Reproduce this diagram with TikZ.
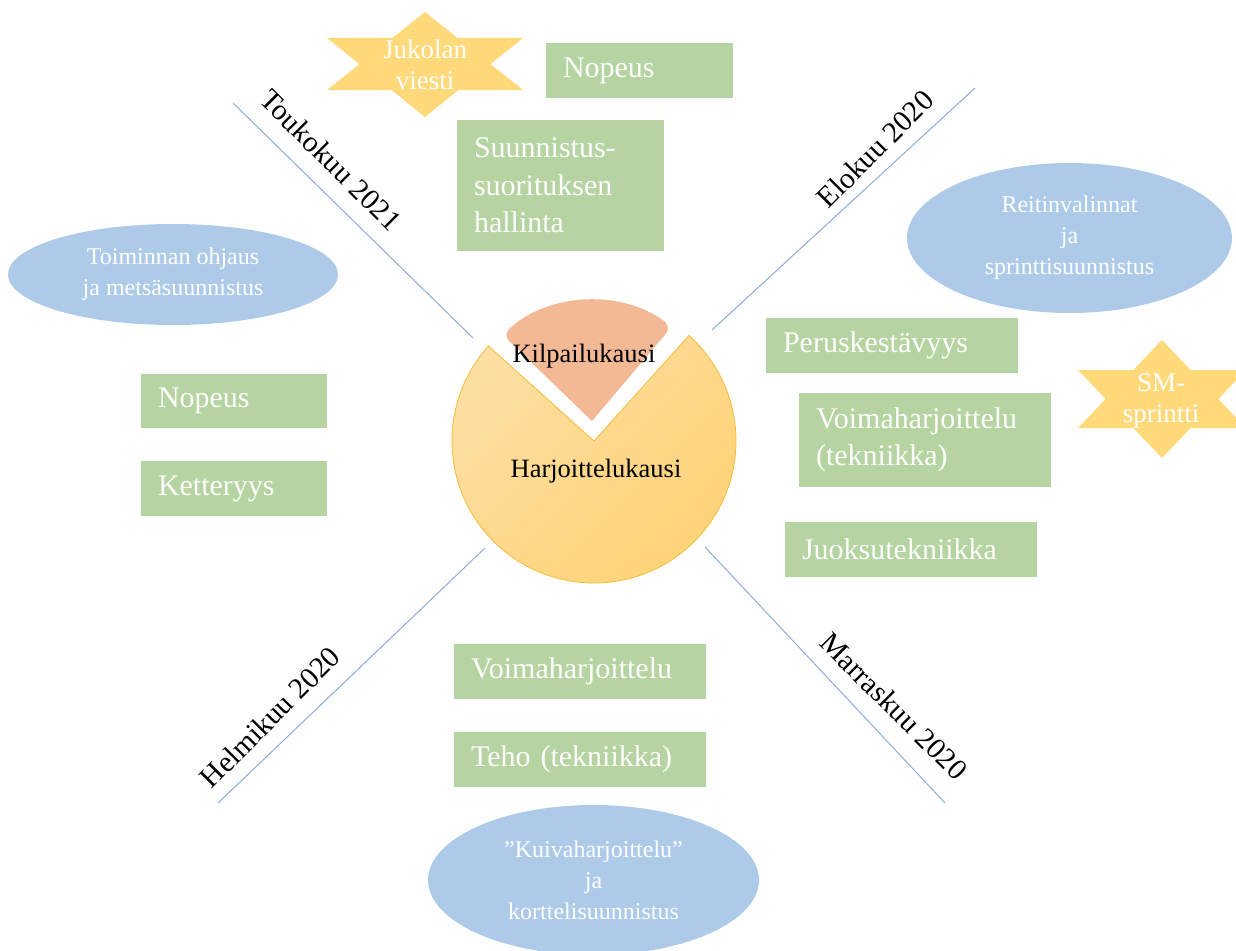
\documentclass[tikz,border=0pt]{standalone}
\usepackage{fontspec}
\setmainfont{Liberation Serif}
\usetikzlibrary{shapes.geometric}
\definecolor{boxgreen}{RGB}{181,212,161}
\definecolor{ellblue}{RGB}{173,203,233}
\definecolor{stargold}{RGB}{255,217,122}
\definecolor{axisblue}{RGB}{142,169,219}
\definecolor{pielight}{RGB}{253,223,162}
\definecolor{piedark}{RGB}{255,210,116}
\definecolor{pieedge}{RGB}{245,188,60}
\definecolor{slicecol}{RGB}{243,185,149}

\begin{document}
\begin{tikzpicture}[x=1pt,y=-1pt,
  gbox/.style={fill=boxgreen, text=white, inner xsep=0pt, inner ysep=0pt,
    align=left, font=\fontsize{30}{37.5}\selectfont},
  ell/.style={ellipse, fill=ellblue, text=white, inner sep=0pt, align=center,
    font=\fontsize{24}{31}\selectfont},
  startext/.style={text=white, align=center, font=\fontsize{27}{31}\selectfont},
  month/.style={font=\fontsize{29.5}{34}\selectfont, inner sep=0pt},
  axisline/.style={draw=axisblue, line width=1pt},
  period/.style={font=\fontsize{26.5}{30}\selectfont, inner sep=0pt}
]
\useasboundingbox (0,0) rectangle (1236,950);
\clip (0,0) rectangle (1236,950);

% season axes
\coordinate (tlA) at (233,103); \coordinate (tlB) at (473,338);
\coordinate (trA) at (975,88);  \coordinate (trB) at (712,330);
\coordinate (blA) at (485,548); \coordinate (blB) at (218,803);
\coordinate (brA) at (705,547); \coordinate (brB) at (945,803);
\draw[axisline] (tlA) -- (tlB);
\draw[axisline] (trA) -- (trB);
\draw[axisline] (blA) -- (blB);
\draw[axisline] (brA) -- (brB);

% month labels
\node[month, rotate=-45] (toukokuu) at (331,160) {Toukokuu 2021};
\node[month, rotate=45] (elokuu) at (875,149) {Elokuu 2020};
\node[month, rotate=45] (helmikuu) at (270,717) {Helmikuu 2020};
\node[month, rotate=-45] (marraskuu) at (894,706) {Marraskuu 2020};

% season wheel
\path[top color=pielight, bottom color=piedark, shading angle=45,
      draw=pieedge, line width=0.8pt]
  (594,441) -- ++(138:142pt) arc[start angle=138, end angle=408, radius=142pt] -- cycle;
\fill[slicecol]
  (592,421) [rounded corners=9pt] -- ++(136:124pt)
  arc[start angle=136, end angle=50, x radius=124pt, y radius=112pt]
  [sharp corners] -- cycle;
\node[period] (kilp) at (584,356) {Kilpailukausi};
\node[period] (harj) at (596,471) {Harjoittelukausi};

% competitions
\fill[stargold] (425,12) -- (523,90) -- (327,90) -- cycle;
\fill[stargold] (425,117) -- (327,38) -- (523,38) -- cycle;
\node[startext] (jukola) at (425,65) {Jukolan\\viesti};
\fill[stargold] (1162,340) -- (1246,428) -- (1078,428) -- cycle;
\fill[stargold] (1162,458) -- (1078,370) -- (1246,370) -- cycle;
\node[startext] (smsprint) at (1161,401) {SM-\\sprintti};

% orienteering themes
\node[ell, minimum width=330pt, minimum height=101pt] (toim) at (173,274.5)
  {Toiminnan ohjaus\\ja metsäsuunnistus};
\node[ell, minimum width=325pt, minimum height=150pt] (reit) at (1069.5,238)
  {Reitinvalinnat\\ja\\sprinttisuunnistus};
\node[ell, minimum width=331pt, minimum height=150pt] (kuiva) at (593.5,880)
  {”Kuivaharjoittelu”\\ja\\korttelisuunnistus};

% training contents
\node[gbox, minimum width=187pt, minimum height=55pt, text width=153pt] (nopeusT) at (639.5,70.5) {Nopeus};
\node[gbox, minimum width=207pt, minimum height=131pt, text width=173pt] (suunn) at (560.5,185.5) {Suunnistus-\\suorituksen\\hallinta};
\node[gbox, minimum width=252pt, minimum height=55pt, text width=218pt] (perus) at (892,345.5) {Peruskestävyys};
\node[gbox, minimum width=252pt, minimum height=94pt, text width=218pt] (voimaT) at (925,440) {Voimaharjoittelu\\(tekniikka)};
\node[gbox, minimum width=252pt, minimum height=55pt, text width=218pt] (juoksu) at (911,549.5) {Juoksutekniikka};
\node[gbox, minimum width=186pt, minimum height=54pt, text width=152pt] (nopeusL) at (234,401) {Nopeus};
\node[gbox, minimum width=186pt, minimum height=55pt, text width=152pt] (ketter) at (234,488.5) {Ketteryys};
\node[gbox, minimum width=252pt, minimum height=55pt, text width=218pt] (voima) at (580,671.5) {Voimaharjoittelu};
\node[gbox, minimum width=252pt, minimum height=55pt, text width=218pt] (teho) at (580,759.5) {Teho (tekniikka)};
\end{tikzpicture}
\end{document}
